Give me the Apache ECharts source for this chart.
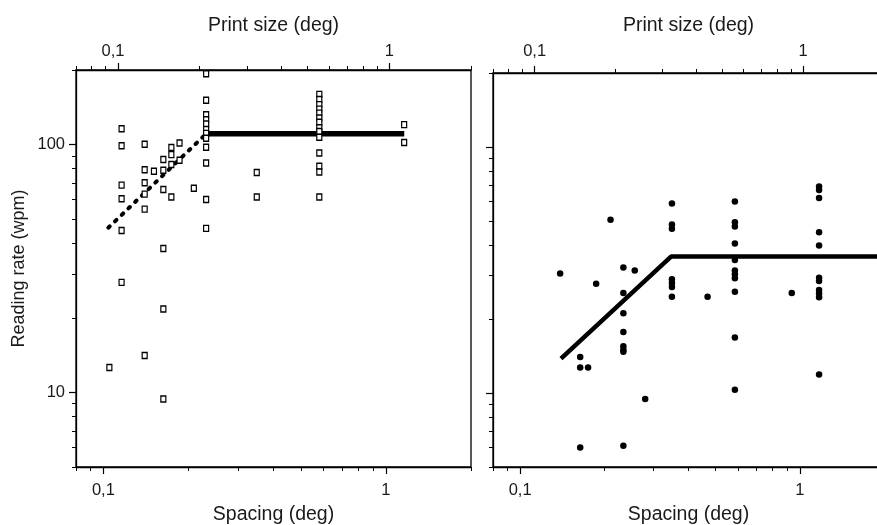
<!DOCTYPE html>
<html>
<head>
<meta charset="utf-8">
<script src="https://cdn.jsdelivr.net/npm/echarts@6/dist/echarts.min.js"></script>
<style>
html,body{margin:0;padding:0;background:#fff;}
#chart{width:877px;height:525px;}
</style>
</head>
<body>
<div id="chart"></div>
<script>
// ---------- data ----------
// Left panel: hollow squares (spacing deg, reading rate wpm)
const leftSpacing = [
  0.105,
  0.116,0.116,0.116,0.116,0.116,0.116,
  0.140,0.140,0.140,0.140,0.140,0.140,
  0.151,
  0.163,0.163,0.163,0.163,0.163,0.163,
  0.174,0.174,0.174,0.174,
  0.186,0.186,
  0.209,
  0.231,0.231,0.231,0.231,0.231,0.231,0.231,0.231,0.231,0.231,0.231,0.231,
  0.349,0.349,
  0.581,0.581,0.581,0.581,0.581,0.581,0.581,0.581,0.581,0.581,0.581,0.581,0.581,0.581,
  1.16,1.16
];
const leftRate = [
  12.6,
  115.8,98.9,68.6,60.5,45.0,27.8,
  100.3,79.1,70.2,63.1,54.9,14.1,
  78.1,
  87.0,78.8,65.9,38.1,21.7,9.4,
  97.3,91.1,83.1,61.5,
  101.5,86.5,
  66.7,
  193,151,132,126,121,115,111,106,97.5,84.3,60.0,45.9,
  77.1,61.5,
  159.5,152,145,139,134,128,123,117,113,107,92.5,81.8,77.5,61.5,
  120.4,101.9
];
// Left panel fit: rising limb (dotted) and plateau
const leftRiseX = [0.1041, 0.2314];
const leftRiseY = [46.2, 110.7];
const leftFlatX = [0.2314, 1.161];
const leftFlatY = [110.7, 110.7];

// Right panel: filled dots
const rightSpacing = [
  0.139,
  0.164,0.164,0.164,
  0.175,
  0.187,
  0.2105,
  0.234,0.234,0.234,0.234,0.234,0.234,0.234,0.234,
  0.257,
  0.280,
  0.349,0.349,0.349,0.349,0.349,0.349,0.349,
  0.468,
  0.586,0.586,0.586,0.586,0.586,0.586,0.586,0.586,0.586,0.586,0.586,
  0.936,
  1.172,1.172,1.172,1.172,1.172,1.172,1.172,1.172,1.172,1.172,1.172
];
const rightRate = [
  30.6,
  14.0,12.7,6.0,
  12.7,
  27.8,
  50.6,
  32.4,25.5,21.1,17.7,15.5,15.0,14.7,6.1,
  31.5,
  9.45,
  58.9,48.4,46.5,29.0,28.0,27.0,24.6,
  24.6,
  60.0,49.5,47.5,40.5,34.7,31.5,30.4,29.3,25.8,16.8,10.3,
  25.5,
  69.1,66.9,62.1,45.0,39.8,29.4,28.5,26.2,25.4,24.5,11.9
];
const rightFitX = [0.140, 0.3472, 2.0];
const rightFitY = [13.8, 35.9, 35.9];

// Axis ticks
const xMajorTicks = [0.1, 1];
const xMinorTop = [0.07,0.08,0.09,0.2,0.3,0.4,0.5,0.6,0.7,0.8,0.9,2];
const xMinorBottom = [0.08,0.09,0.2,0.3,0.4,0.5,0.6,0.7,0.8,0.9,2];
const yMajorTicks = [10, 100];
const yMinorTicks = [5,6,7,8,9,20,30,40,50,60,70,80,90,200];

const topTitle = 'Print size (deg)';
const bottomTitle = 'Spacing (deg)';
const yTitle = 'Reading rate (wpm)';

// ---------- chart ----------
const FONT = 'Liberation Sans, Arial, Helvetica, sans-serif';
const TXT = '#1a1a1a';
const zip = (a, b) => a.map((v, i) => [v, b[i]]);
const fmt = v => String(+(+v).toPrecision(3)).replace('.', ',');

const gridL = {left: 76, top: 70, width: 395, height: 397};
const gridR = {left: 493, top: 73, width: 391, height: 394};
const gridBase = {outerBoundsMode: 'none', containLabel: false};

function xMain(grid, pos, min, name, nameGap, labelMargin, labelFmt) {
  return {
    type: 'log', logBase: 10, gridIndex: grid, position: pos, min: min, max: 2,
    name: name, nameLocation: 'middle', nameGap: nameGap,
    nameTextStyle: {fontFamily: FONT, fontSize: 19.5, color: TXT},
    axisLine: {show: true, lineStyle: {color: '#000', width: 1.3}},
    axisTick: {show: true, inside: false, length: 7, customValues: xMajorTicks, lineStyle: {color: '#000', width: 1.2}},
    axisLabel: {show: true, customValues: xMajorTicks, margin: labelMargin,
      fontFamily: FONT, fontSize: 16.5, color: TXT, formatter: labelFmt || fmt,
      rich: {o: {fontFamily: FONT, fontSize: 16.5, color: TXT, padding: [0, 10, 0, 0]}}},
    splitLine: {show: false}, minorTick: {show: false}
  };
}
function xMinor(grid, pos, min, ticks) {
  return {
    type: 'log', logBase: 10, gridIndex: grid, position: pos, min: min, max: 2,
    axisLine: {show: false},
    axisTick: {show: true, inside: false, length: 4, customValues: ticks, lineStyle: {color: '#000', width: 1}},
    axisLabel: {show: false}, splitLine: {show: false}
  };
}
function yMain(grid, showLabel, name) {
  return {
    type: 'log', logBase: 10, gridIndex: grid, position: 'left', min: 5, max: 200,
    name: name || '', nameLocation: 'middle', nameGap: 48, nameRotate: 90,
    nameTextStyle: {fontFamily: FONT, fontSize: 18, color: TXT},
    axisLine: {show: true, lineStyle: {color: '#000', width: 1.3}},
    axisTick: {show: true, inside: false, length: 7, customValues: yMajorTicks, lineStyle: {color: '#000', width: 1.2}},
    axisLabel: {show: showLabel, customValues: yMajorTicks, margin: 11,
      fontFamily: FONT, fontSize: 16.5, color: TXT, formatter: fmt},
    splitLine: {show: false}
  };
}
function yMinor(grid) {
  return {
    type: 'log', logBase: 10, gridIndex: grid, position: 'left', min: 5, max: 200,
    axisLine: {show: false},
    axisTick: {show: true, inside: false, length: 4, customValues: yMinorTicks, lineStyle: {color: '#000', width: 1}},
    axisLabel: {show: false}, splitLine: {show: false}
  };
}

const leftTopFmt = v => Math.abs(v - 0.1) < 1e-9 ? '{o|0,1}' : fmt(v);

const option = {
  animation: false,
  backgroundColor: '#fff',
  grid: [
    Object.assign({show: true, borderColor: '#000', borderWidth: 1.3, backgroundColor: 'transparent'}, gridBase, gridL),
    Object.assign({show: true, borderColor: '#000', borderWidth: 1.3, backgroundColor: 'transparent'}, gridBase, gridR),
    Object.assign({}, gridBase, gridL),
    Object.assign({}, gridBase, gridR)
  ],
  xAxis: [
    xMain(0, 'bottom', 0.08, bottomTitle, 38, 15),
    xMain(0, 'top', 0.07, topTitle, 34, 10, leftTopFmt),
    xMain(1, 'bottom', 0.08, bottomTitle, 38, 15),
    xMain(1, 'top', 0.07, topTitle, 37, 13),
    xMinor(2, 'bottom', 0.08, xMinorBottom),
    xMinor(2, 'top', 0.07, xMinorTop),
    xMinor(3, 'bottom', 0.08, xMinorBottom),
    xMinor(3, 'top', 0.07, xMinorTop)
  ],
  yAxis: [
    yMain(0, true, yTitle),
    yMain(1, false),
    yMinor(2),
    yMinor(3)
  ],
  series: [
    {
      type: 'line', xAxisIndex: 0, yAxisIndex: 0, data: zip(leftRiseX, leftRiseY),
      symbol: 'none', z: 2,
      lineStyle: {color: '#000', width: 4, type: [2, 7.3], cap: 'round'}
    },
    {
      type: 'line', xAxisIndex: 0, yAxisIndex: 0, data: zip(leftFlatX, leftFlatY),
      symbol: 'none', z: 2,
      lineStyle: {color: '#000', width: 5.5, cap: 'butt'}
    },
    {
      type: 'scatter', xAxisIndex: 0, yAxisIndex: 0, data: zip(leftSpacing, leftRate),
      symbol: 'rect', symbolSize: [5, 6], z: 3,
      itemStyle: {color: '#fff', borderColor: '#000', borderWidth: 1.3, opacity: 1}
    },
    {
      type: 'line', xAxisIndex: 2, yAxisIndex: 1, data: zip(rightFitX, rightFitY),
      symbol: 'none', z: 2,
      lineStyle: {color: '#000', width: 4.5, join: 'round'}
    },
    {
      type: 'scatter', xAxisIndex: 2, yAxisIndex: 1, data: zip(rightSpacing, rightRate),
      symbol: 'circle', symbolSize: 6.5, z: 3,
      itemStyle: {color: '#000', opacity: 1}
    }
  ]
};

const chart = echarts.init(document.getElementById('chart'), null, {renderer: 'canvas'});
chart.setOption(option);
</script>
</body>
</html>
